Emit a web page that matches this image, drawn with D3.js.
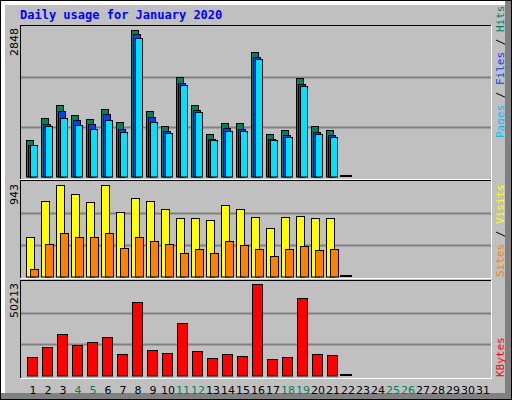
<!DOCTYPE html>
<html><head><meta charset="utf-8">
<script src="https://cdn.jsdelivr.net/npm/d3@7"></script>
<style>body{margin:0;background:#fff}svg{display:block}</style>
</head><body>
<svg id="chart" width="512" height="400"></svg>
<script>
var days = d3.range(1, 32);
var weekend = [4, 5, 11, 12, 18, 19, 25, 26];
var hits   = [706,1135,1388,1193,1115,1310,1057,2848,1271,979,1934,1388,823,1037,1037,2422,823,901,1915,979,901,0];
var files  = [608,1018,1271,1096,1018,1213,920,2773,1154,881,1817,1291,725,940,920,2324,725,803,1798,862,803,0];
var pages  = [608,979,1135,998,920,1096,862,2695,1057,842,1778,1252,706,897,881,2285,706,764,1759,823,764,0];
var visits = [410,769,943,841,759,943,666,800,769,687,595,595,584,738,697,615,502,615,625,595,595,0];
var sites  = [82,338,451,400,400,451,297,400,359,338,246,277,246,359,328,287,215,277,308,267,287,0];
var kbytes = [10100,15590,22730,16690,18340,21080,11750,40300,13940,12300,28770,13400,9550,11750,10650,50213,9000,10100,42490,11750,11200,0];

var svg = d3.select("#chart");
var font = "'DejaVu Sans Mono', monospace";

// frame with bevel
svg.append("rect").attr("width", 512).attr("height", 400).attr("fill", "#000");
svg.append("rect").attr("x", 1).attr("y", 1).attr("width", 510).attr("height", 398).attr("fill", "#808080");
svg.append("rect").attr("x", 1).attr("y", 1).attr("width", 504).attr("height", 392).attr("fill", "#fff");
svg.append("rect").attr("x", 5).attr("y", 5).attr("width", 500).attr("height", 388).attr("fill", "#c0c0c0");

svg.append("text").attr("x", 20).attr("y", 19).attr("fill", "#0000ff")
    .style("font", "bold 12px " + font).text("Daily usage for January 2020");

var x = d3.scaleBand().domain(days).range([25.5, 490.5]);

function panel(y0, y1) {
    svg.append("line").attr("x1", 20).attr("x2", 491).attr("y1", y0 + 0.5).attr("y2", y0 + 0.5).attr("stroke", "#000");
    svg.append("line").attr("x1", 20.5).attr("x2", 20.5).attr("y1", y0).attr("y2", y1).attr("stroke", "#000");
    svg.append("line").attr("x1", 20).attr("x2", 492).attr("y1", y1 + 0.5).attr("y2", y1 + 0.5).attr("stroke", "#fff");
    svg.append("line").attr("x1", 491.5).attr("x2", 491.5).attr("y1", y0).attr("y2", y1 + 1).attr("stroke", "#fff");
}

function grid(y) {
    [1 / 3, 2 / 3].forEach(function (f) {
        var v = y.domain()[1] * f;
        svg.append("line").attr("x1", 21).attr("x2", 491).attr("y1", Math.round(y(v)) + 0.5)
            .attr("y2", Math.round(y(v)) + 0.5).attr("stroke", "#808080").attr("stroke-width", 2);
    });
}

function bars(data, y, off, w, color) {
    var g = svg.append("g");
    data.forEach(function (v, i) {
        var x0 = Math.round(x(i + 1)) + off;
        if (v === 0) {
            g.append("rect").attr("x", x(i + 1) - 0.5).attr("y", y(0) - 1.5).attr("width", 12).attr("height", 2).attr("fill", "#000");
            return;
        }
        g.append("rect").attr("x", x0 + 0.5).attr("y", Math.round(y(v)) + 0.5)
            .attr("width", w).attr("height", y(0) - Math.round(y(v)))
            .attr("fill", color).attr("stroke", "#000");
    });
}

function sideLabel(xp, ybottom, parts) {
    var t = svg.append("text").attr("transform", "translate(" + xp + "," + ybottom + ") rotate(-90)")
        .style("font", "11px " + font);
    parts.forEach(function (p) { t.append("tspan").attr("fill", p[1]).text(p[0]); });
}

function leftLabel(ytop, txt) {
    svg.append("text").attr("transform", "translate(18," + ytop + ") rotate(-90)")
        .attr("text-anchor", "end").attr("fill", "#000").style("font", "11px 'DejaVu Sans', sans-serif").text(txt);
}

// top panel: hits / files / pages
panel(25, 179);
var y1 = d3.scaleLinear().domain([0, 2926]).range([176.5, 26.5]);
grid(y1);
bars(hits, y1, 0, 7, "#00805c");
bars(files, y1, 2, 7, "#0040ff");
bars(pages, y1, 4, 7, "#00e0ff");
leftLabel(28, "2848");
sideLabel(504, 138, [["Pages", "#00c0ff"], [" / ", "#000"], ["Files", "#0040ff"], [" / ", "#000"], ["Hits", "#00805c"]]);

// middle panel: visits / sites
panel(180, 278);
var y2 = d3.scaleLinear().domain([0, 984]).range([276.5, 180.5]);
grid(y2);
bars(visits, y2, 0, 8, "#ffff00");
bars(sites, y2, 4, 8, "#ff8000");
leftLabel(184, "943");
sideLabel(504, 277, [["Sites", "#ff8000"], [" / ", "#000"], ["Visits", "#ffff00"]]);

// bottom panel: kbytes
panel(280, 378);
var y3 = d3.scaleLinear().domain([0, 51420]).range([375.5, 281.9]);
grid(y3);
bars(kbytes, y3, 1, 10, "#ff0000");
leftLabel(283, "50213");
sideLabel(504, 377, [["KBytes", "#ff0000"]]);

// day labels
svg.append("g").selectAll("text").data(days).join("text")
    .attr("x", function (d) { return x(d) + x.bandwidth() / 2; })
    .attr("y", 394).attr("text-anchor", "middle")
    .attr("fill", function (d) { return weekend.indexOf(d) >= 0 ? "#00805c" : "#000"; })
    .style("font", "11px 'DejaVu Sans', sans-serif")
    .text(function (d) { return d; });
</script>
</body></html>
